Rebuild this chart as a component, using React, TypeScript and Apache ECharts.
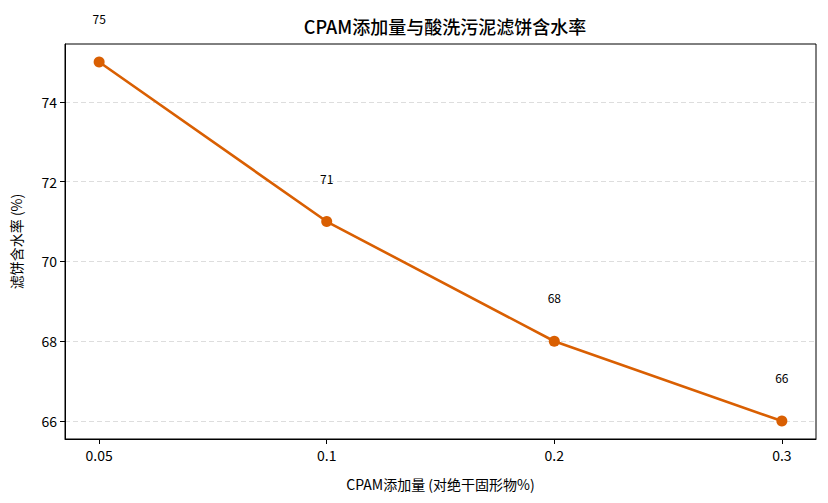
import React, { useEffect, useRef } from "react";
import * as echarts from "echarts";

const categories = ["0.05", "0.1", "0.2", "0.3"];
const moisture = [75, 71, 68, 66];
const yTicks = [66, 68, 70, 72, 74];

const FONT = "'Noto Sans CJK SC', 'Noto Sans', sans-serif";
const COLOR = "#d95f02";

export default function App() {
  const ref = useRef<HTMLDivElement>(null);
  useEffect(() => {
    document.body.style.margin = "0";
    if (!ref.current) return;
    const chart = echarts.init(ref.current, null, { renderer: "svg" });
    const idx = categories.map((_, i) => i);
    chart.setOption({
      animation: false,
      backgroundColor: "#ffffff",
      textStyle: { fontFamily: FONT },
      title: {
        text: "CPAM添加量与酸洗污泥滤饼含水率",
        left: 440,
        textAlign: "center",
        top: 12,
        textStyle: { fontFamily: FONT, fontSize: 18, fontWeight: 500, color: "#000" },
      },
      grid: {
        left: 65,
        right: 12,
        top: 44,
        bottom: 64,
        show: true,
        borderColor: "#000",
        borderWidth: 1,
        backgroundColor: "transparent",
      },
      xAxis: {
        type: "value",
        min: -0.15,
        max: 3.15,
        name: "CPAM添加量 (对绝干固形物%)",
        nameLocation: "middle",
        nameGap: 38,
        nameTextStyle: { fontFamily: FONT, fontSize: 14, color: "#000" },
        axisLine: { show: true, onZero: false, lineStyle: { color: "#000", width: 1 } },
        axisTick: { show: true, length: 5, lineStyle: { color: "#000" }, customValues: idx },
        axisLabel: {
          customValues: idx,
          formatter: (v: number) => categories[Math.round(v)] ?? "",
          fontFamily: FONT,
          fontSize: 14,
          color: "#000",
          margin: 9,
        },
        splitLine: { show: false },
      },
      yAxis: {
        type: "value",
        min: 65.55,
        max: 75.45,
        name: "滤饼含水率 (%)",
        nameLocation: "middle",
        nameGap: 42,
        nameTextStyle: { fontFamily: FONT, fontSize: 14, color: "#000" },
        axisLine: { show: true, onZero: false, lineStyle: { color: "#000", width: 1 } },
        axisTick: { show: true, length: 5, lineStyle: { color: "#000" }, customValues: yTicks },
        axisLabel: {
          customValues: yTicks,
          fontFamily: FONT,
          fontSize: 14,
          color: "#000",
          margin: 8,
        },
        splitLine: { show: true, lineStyle: { color: "#dddddd", type: [5, 3], width: 1 } },
      },
      series: [
        {
          type: "line",
          data: moisture.map((v, i) => [i, v]),
          symbol: "circle",
          symbolSize: 11,
          lineStyle: { color: COLOR, width: 2.6 },
          itemStyle: { color: COLOR },
          label: {
            show: true,
            position: "top",
            distance: 32,
            fontFamily: FONT,
            fontSize: 12,
            color: "#000",
            formatter: (p: any) => String(p.value[1]),
          },
          clip: false,
        },
      ],
    });
    return () => chart.dispose();
  }, []);
  return <div ref={ref} style={{ width: 828, height: 503 }} />;
}
